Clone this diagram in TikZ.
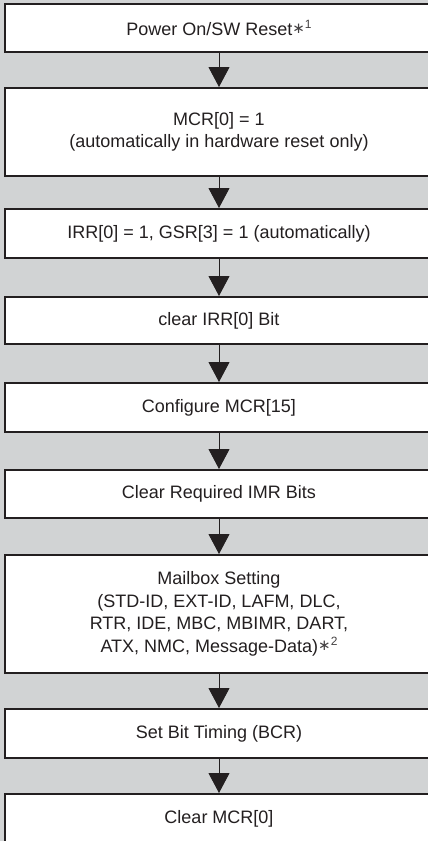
\documentclass[tikz,border=0pt]{standalone}
\usepackage{fontspec}
\setmainfont{Liberation Sans}
\newfontfamily\symfont{DejaVu Sans}
\usetikzlibrary{arrows.meta}
\definecolor{bg}{HTML}{D1D3D4}
\definecolor{ink}{HTML}{231F20}
\newcommand{\fnote}[1]{{\color{ink!85}\raisebox{0.12em}{\symfont\fontsize{15}{15}\selectfont ∗}\raisebox{0.36em}{\fontsize{12}{12}\selectfont #1}}}
\begin{document}
\begin{tikzpicture}[x=1pt,y=1pt,
  stepbox/.style={draw=ink, line width=2pt, fill=white, rectangle,
    minimum width=428pt, inner sep=0pt, align=center, text=ink,
    font=\fontsize{18}{22.5}\selectfont},
  flow/.style={draw=ink, line width=1pt, -{Triangle[width=21pt,length=20pt]}}]
\fill[bg] (0,0) rectangle (428,-841);
\useasboundingbox (0,0) rectangle (428,-841);
\clip (0,0) rectangle (428,-841);
\node[stepbox, minimum height=48pt] (b1) at (219,-28) {Power On/SW Reset\fnote{1}};
\node[stepbox, minimum height=88pt] (b2) at (219,-132) {MCR[0] = 1\\(automatically in hardware reset only)};
\node[stepbox, minimum height=49pt] (b3) at (219,-233.5) {IRR[0] = 1, GSR[3] = 1 (automatically)};
\node[stepbox, minimum height=47pt] (b4) at (219,-320.5) {clear IRR[0] Bit};
\node[stepbox, minimum height=49pt] (b5) at (219,-407.5) {Configure MCR[15]};
\node[stepbox, minimum height=48pt] (b6) at (219,-494) {Clear Required IMR Bits};
\node[stepbox, minimum height=118pt] (b7) at (219,-614) {Mailbox Setting\\(STD-ID, EXT-ID, LAFM, DLC,\\RTR, IDE, MBC, MBIMR, DART,\\ATX, NMC, Message-Data)\fnote{2}};
\node[stepbox, minimum height=49pt] (b8) at (219,-733.5) {Set Bit Timing (BCR)};
\node[stepbox, minimum height=49pt] (b9) at (219,-818.5) {Clear MCR[0]};
\draw[flow] (b1.south) -- (b2.north);
\draw[flow] (b2.south) -- (b3.north);
\draw[flow] (b3.south) -- (b4.north);
\draw[flow] (b4.south) -- (b5.north);
\draw[flow] (b5.south) -- (b6.north);
\draw[flow] (b6.south) -- (b7.north);
\draw[flow] (b7.south) -- (b8.north);
\draw[flow] (b8.south) -- (b9.north);
\end{tikzpicture}
\end{document}
